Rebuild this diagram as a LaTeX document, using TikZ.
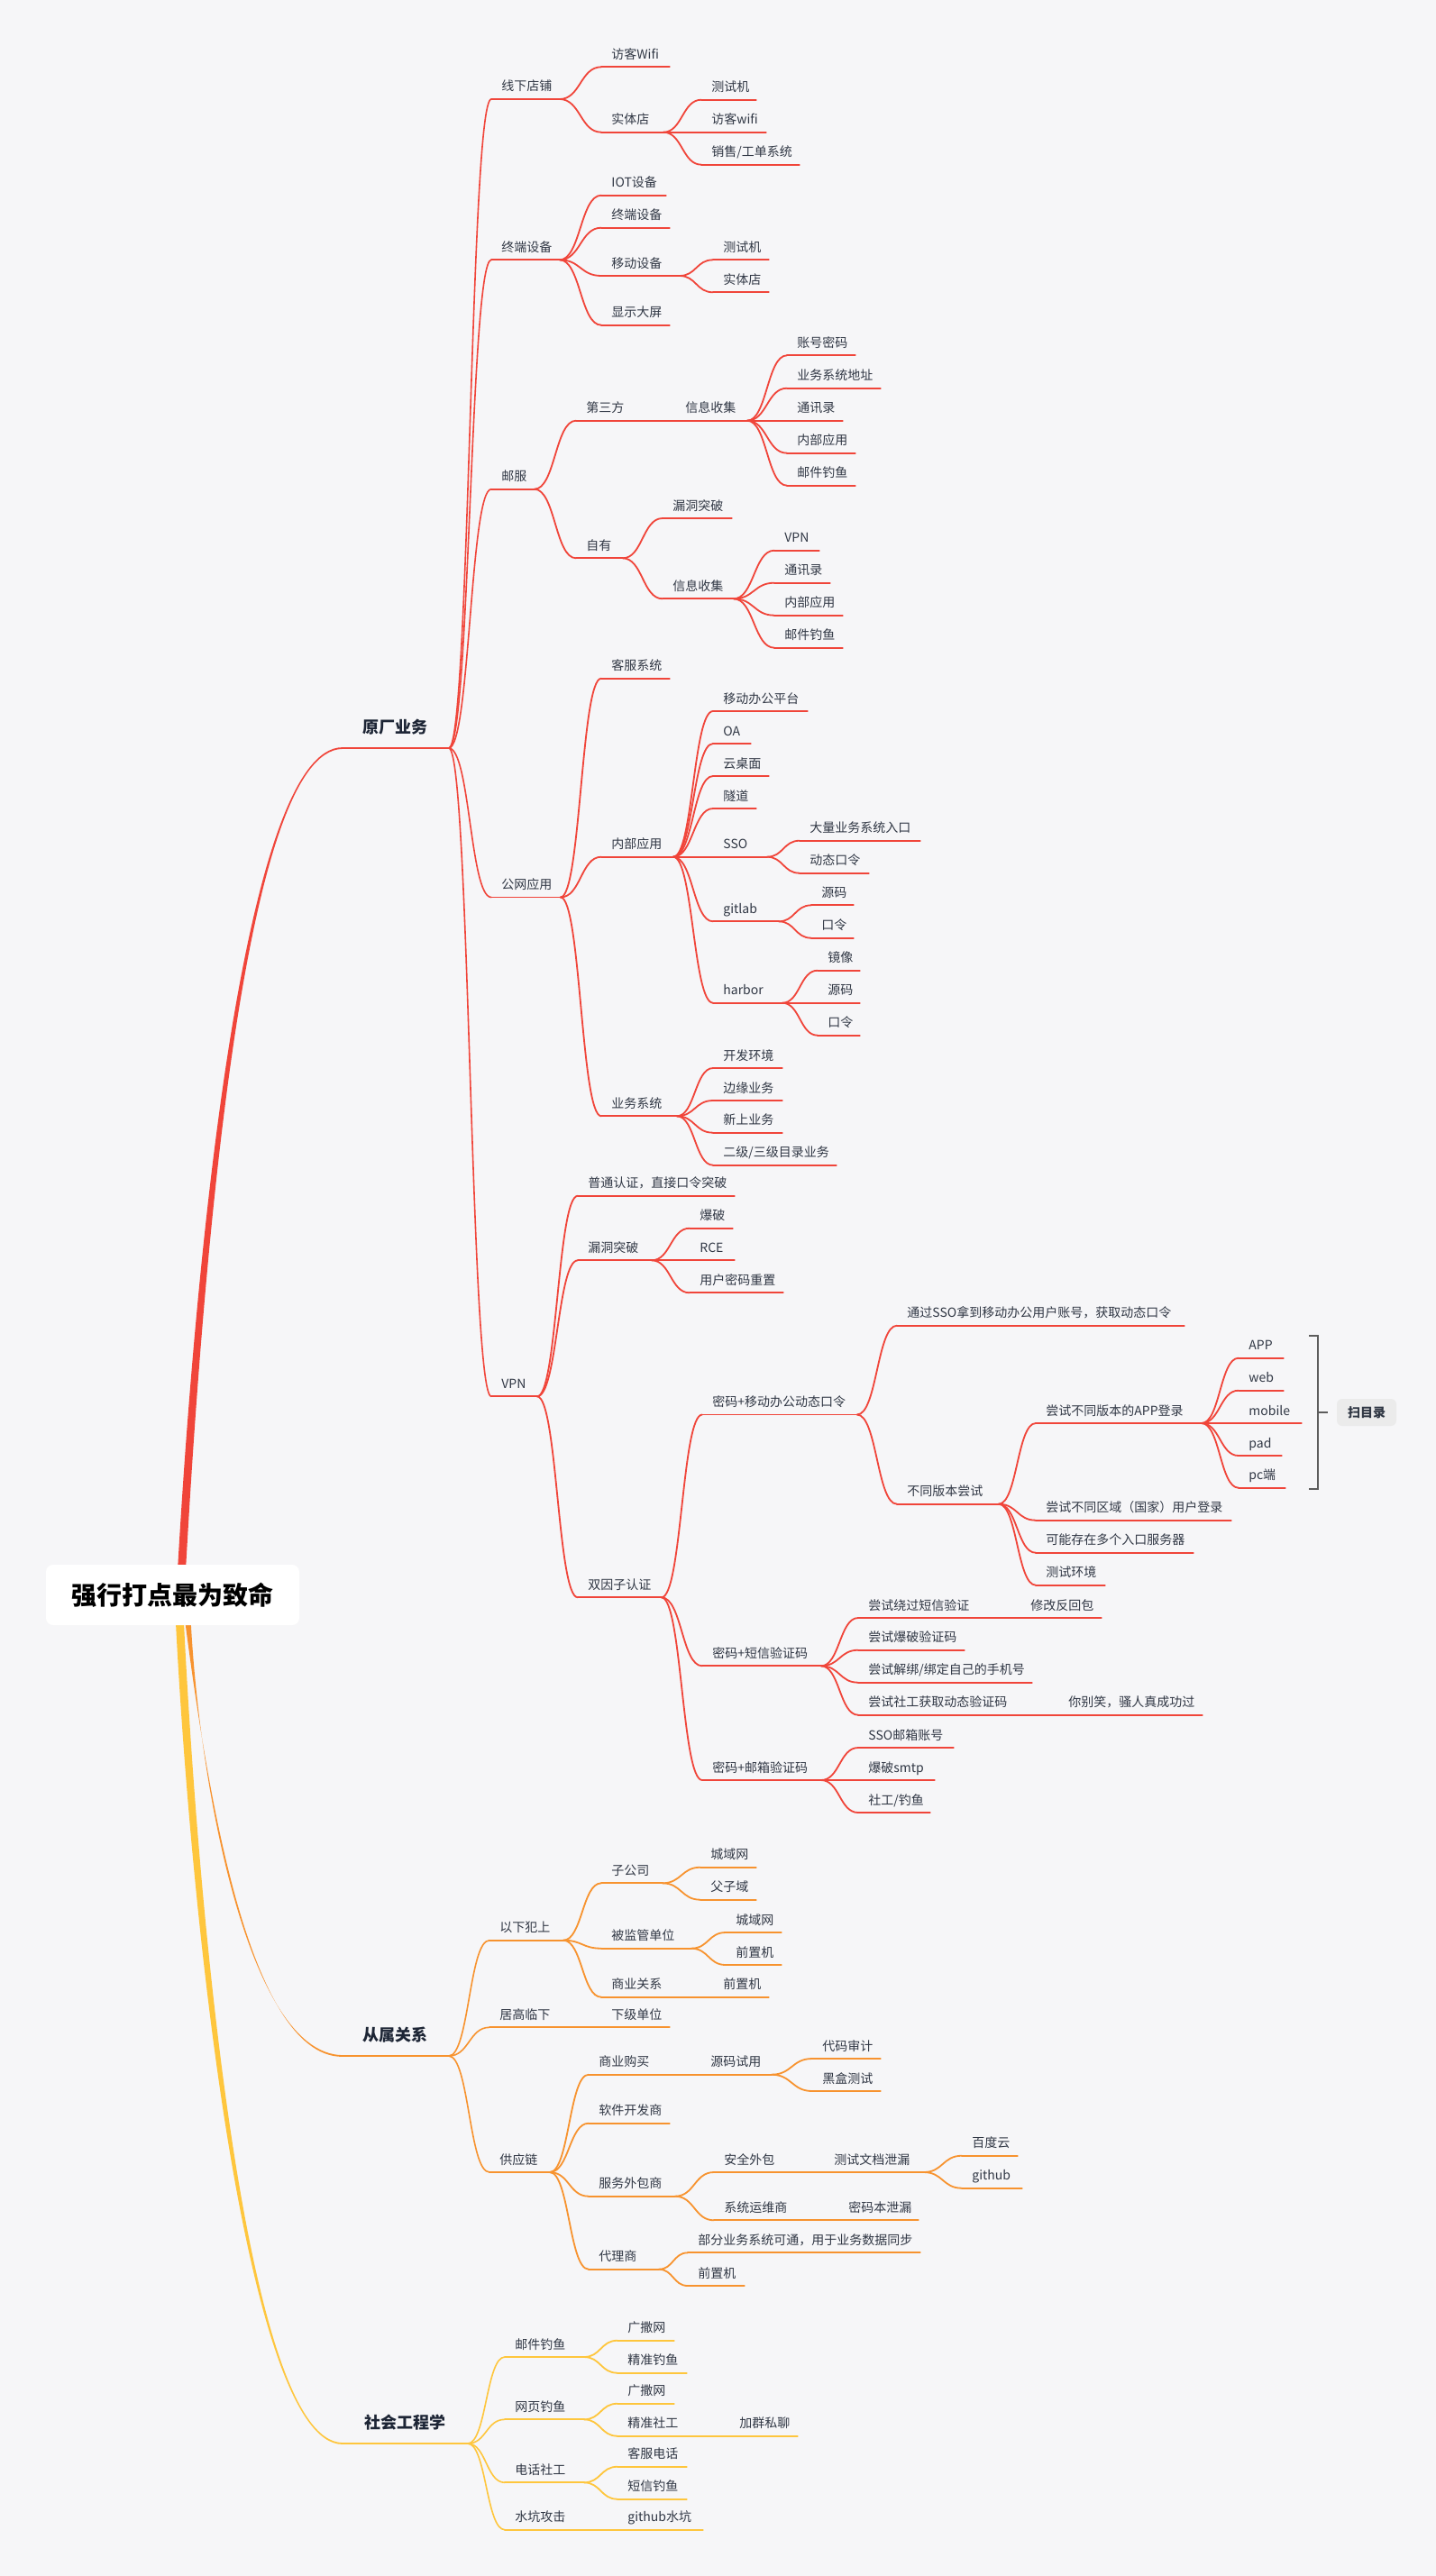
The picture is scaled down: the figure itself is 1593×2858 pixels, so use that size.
\documentclass[tikz,border=0pt]{standalone}
\usepackage{fontspec}
\setmainfont{Noto Sans CJK SC}
\usetikzlibrary{calc}
\definecolor{bg}{HTML}{F6F6F8}
\definecolor{cR}{HTML}{F0453A}
\definecolor{cO}{HTML}{F7932F}
\definecolor{cY}{HTML}{FEC63D}
\definecolor{txt}{HTML}{303744}
\definecolor{tdark}{HTML}{1D2535}
\definecolor{brkc}{HTML}{5C5C5C}
\definecolor{tagbg}{HTML}{EBEBEB}
\tikzset{
  lf/.style={anchor=south west, inner xsep=5.5pt, inner ysep=4.3pt, text depth=0pt,
    font=\fontsize{7}{8}\selectfont, text=txt},
  lone/.style={anchor=south west, inner xsep=0pt, inner ysep=8pt, text depth=0pt,
    font=\bfseries\fontsize{9}{10}\selectfont, text=tdark},
  ul/.style={line width=0.9pt, line cap=round},
  rootn/.style={fill=white, rounded corners=4pt, minimum width=140.5pt, minimum height=33.5pt,
    inner sep=0pt, font=\bfseries\fontsize{14}{16}\selectfont, text=black},
  tagn/.style={fill=tagbg, rounded corners=3pt, minimum width=33pt, minimum height=15pt,
    inner sep=0pt, font=\bfseries\fontsize{7}{8}\selectfont, text=txt},
  brk/.style={draw=brkc, line width=1pt},
}
\newcommand\mmnode[6]{%
  \pgfmathsetlengthmacro\mmw{(#4-#3-22)*0.5}%
  \node[lf] (#2) at (#3,#5) {\hbox to \mmw{#6\hss}};
  \draw[ul,draw=#1] (#2.south west) -- (#2.south east);
}
\newcommand\mmlink[4][0.9pt]{%
  \draw[line width=#1,draw=#2,line cap=round] let \p1=(#3.south east), \p2=(#4.south west) in
    (\p1) .. controls ({0.5*\x1+0.5*\x2},\y1) and ({0.5*\x1+0.5*\x2},\y2) .. (\p2);
}
\begin{document}
\begin{tikzpicture}[x=0.5pt,y=-0.5pt]
\fill[bg] (0,0) rectangle (1593,2858);
\useasboundingbox (0,0) rectangle (1593,2858);
\coordinate (rc) at (191.5,1769.5);
% ---------- level 1
\node[lone, minimum width=58.5pt] (A) at (380,830) {原厂业务};
\draw[line width=0.75pt,draw=cR] (A.south west) -- (A.south east);
\node[lone, minimum width=58.5pt] (B) at (380,2281) {从属关系};
\draw[line width=0.75pt,draw=cO] (B.south west) -- (B.south east);
\node[lone, minimum width=69pt] (C) at (380,2711) {社会工程学};
\draw[line width=0.75pt,draw=cY] (C.south west) -- (C.south east);
% ---------- red branch
\mmnode{cR}{a1}{545}{620}{110}{线下店铺}
\mmnode{cR}{a11}{667}{742}{74.3}{访客Wifi}
\mmnode{cR}{a12}{667}{735}{146.7}{实体店}
\mmnode{cR}{a121}{778}{838}{110.7}{测试机}
\mmnode{cR}{a122}{778}{849}{146.7}{访客wifi}
\mmnode{cR}{a123}{778}{886}{182.7}{销售/工单系统}
\mmnode{cR}{a2}{545}{620}{288.3}{终端设备}
\mmnode{cR}{a21}{667}{738}{216.7}{IOT设备}
\mmnode{cR}{a22}{667}{742}{252.7}{终端设备}
\mmnode{cR}{a23}{667}{753}{306}{移动设备}
\mmnode{cR}{a231}{791}{852}{288.3}{测试机}
\mmnode{cR}{a232}{791}{852}{324.3}{实体店}
\mmnode{cR}{a24}{667}{742}{360.7}{显示大屏}
\mmnode{cR}{a3}{545}{592}{542.7}{邮服}
\mmnode{cR}{a31}{639}{703}{466.7}{第三方}
\mmnode{cR}{a311}{749}{828}{466.7}{信息收集}
\mmnode{cR}{a3111}{873}{948}{394.3}{账号密码}
\mmnode{cR}{a3112}{873}{976}{430.7}{业务系统地址}
\mmnode{cR}{a3113}{873}{934}{466.7}{通讯录}
\mmnode{cR}{a3114}{873}{948}{502.7}{内部应用}
\mmnode{cR}{a3115}{873}{948}{538.7}{邮件钓鱼}
\mmnode{cR}{a32}{639}{690}{619.3}{自有}
\mmnode{cR}{a321}{735}{811}{575}{漏洞突破}
\mmnode{cR}{a322}{735}{813}{664.3}{信息收集}
\mmnode{cR}{a3221}{859}{908}{610.7}{VPN}
\mmnode{cR}{a3222}{859}{920}{646.7}{通讯录}
\mmnode{cR}{a3223}{859}{934}{682.7}{内部应用}
\mmnode{cR}{a3224}{859}{934}{718.7}{邮件钓鱼}
\mmnode{cR}{a4}{545}{621}{995.5}{公网应用}
\mmnode{cR}{a41}{667}{742}{752.7}{客服系统}
\mmnode{cR}{a42}{667}{746}{950.7}{内部应用}
\mmnode{cR}{a421}{791}{895}{789}{移动办公平台}
\mmnode{cR}{a422}{791}{832}{825}{OA}
\mmnode{cR}{a423}{791}{852}{861}{云桌面}
\mmnode{cR}{a424}{791}{838}{897}{隧道}
\mmnode{cR}{a425}{791}{850}{950.7}{SSO}
\mmnode{cR}{a4251}{887}{1020}{932.7}{大量业务系统入口}
\mmnode{cR}{a4252}{887}{963}{968.7}{动态口令}
\mmnode{cR}{a426}{791}{863}{1022.3}{gitlab}
\mmnode{cR}{a4261}{900}{946}{1004.3}{源码}
\mmnode{cR}{a4262}{900}{946}{1040.7}{口令}
\mmnode{cR}{a427}{791}{867}{1112.7}{harbor}
\mmnode{cR}{a4271}{907}{953}{1076.7}{镜像}
\mmnode{cR}{a4272}{907}{953}{1112.7}{源码}
\mmnode{cR}{a4273}{907}{953}{1148.7}{口令}
\mmnode{cR}{a43}{667}{750}{1238.3}{业务系统}
\mmnode{cR}{a431}{791}{867}{1185}{开发环境}
\mmnode{cR}{a432}{791}{867}{1221}{边缘业务}
\mmnode{cR}{a433}{791}{867}{1256.7}{新上业务}
\mmnode{cR}{a434}{791}{927}{1292.7}{二级/三级目录业务}
\mmnode{cR}{a5}{545}{595}{1549.3}{VPN}
\mmnode{cR}{a51}{641}{814}{1326.7}{普通认证，直接口令突破}
\mmnode{cR}{a52}{641}{722}{1398.3}{漏洞突破}
\mmnode{cR}{a521}{765}{812}{1362.7}{爆破}
\mmnode{cR}{a522}{765}{814}{1398.3}{RCE}
\mmnode{cR}{a523}{765}{868}{1434.3}{用户密码重置}
\mmnode{cR}{a53}{641}{733}{1772.3}{双因子认证}
\mmnode{cR}{b1}{779}{950}{1569.5}{密码+移动办公动态口令}
\mmnode{cR}{b11}{995}{1313}{1470.7}{通过SSO拿到移动办公用户账号，获取动态口令}
\mmnode{cR}{b12}{995}{1107}{1668.7}{不同版本尝试}
\mmnode{cR}{b121}{1149}{1332}{1579}{尝试不同版本的APP登录}
\mmnode{cR}{c1}{1374}{1423}{1506.7}{APP}
\mmnode{cR}{c2}{1374}{1423}{1542.7}{web}
\mmnode{cR}{c3}{1374}{1443}{1579}{mobile}
\mmnode{cR}{c4}{1374}{1421}{1615}{pad}
\mmnode{cR}{c5}{1374}{1425}{1650.7}{pc端}
\mmnode{cR}{b122}{1149}{1365}{1686.7}{尝试不同区域（国家）用户登录}
\mmnode{cR}{b123}{1149}{1323}{1722.7}{可能存在多个入口服务器}
\mmnode{cR}{b124}{1149}{1225}{1758.7}{测试环境}
\mmnode{cR}{b2}{779}{910}{1848.3}{密码+短信验证码}
\mmnode{cR}{b21}{952}{1090}{1795}{尝试绕过短信验证}
\mmnode{cR}{b211}{1132}{1221}{1795}{修改反回包}
\mmnode{cR}{b22}{952}{1069}{1830.7}{尝试爆破验证码}
\mmnode{cR}{b23}{952}{1144}{1866.7}{尝试解绑/绑定自己的手机号}
\mmnode{cR}{b24}{952}{1127}{1902.7}{尝试社工获取动态验证码}
\mmnode{cR}{b241}{1174}{1333}{1902.7}{你别笑，骚人真成功过}
\mmnode{cR}{b3}{779}{910}{1975}{密码+邮箱验证码}
\mmnode{cR}{b31}{952}{1057}{1939}{SSO邮箱账号}
\mmnode{cR}{b32}{952}{1036}{1975}{爆破smtp}
\mmnode{cR}{b33}{952}{1031}{2011}{社工/钓鱼}
% ---------- orange branch
\mmnode{cO}{o1}{543}{624}{2152.7}{以下犯上}
\mmnode{cO}{o11}{667}{734}{2089.3}{子公司}
\mmnode{cO}{o111}{777}{838}{2071.7}{城域网}
\mmnode{cO}{o112}{777}{838}{2107.7}{父子域}
\mmnode{cO}{o12}{667}{766}{2161.7}{被监管单位}
\mmnode{cO}{o121}{805}{866}{2144}{城域网}
\mmnode{cO}{o122}{805}{866}{2180}{前置机}
\mmnode{cO}{o13}{667}{745}{2215.7}{商业关系}
\mmnode{cO}{o131}{791}{852}{2215.7}{前置机}
\mmnode{cO}{o2}{543}{624}{2249.3}{居高临下}
\mmnode{cO}{o21}{667}{742}{2249.3}{下级单位}
\mmnode{cO}{o3}{543}{609}{2410}{供应链}
\mmnode{cO}{o31}{653}{730}{2301.7}{商业购买}
\mmnode{cO}{o311}{777}{855}{2301.7}{源码试用}
\mmnode{cO}{o3111}{901}{976}{2284}{代码审计}
\mmnode{cO}{o3112}{901}{976}{2320}{黑盒测试}
\mmnode{cO}{o32}{653}{742}{2355.7}{软件开发商}
\mmnode{cO}{o33}{653}{748}{2436.7}{服务外包商}
\mmnode{cO}{o331}{792}{870}{2410}{安全外包}
\mmnode{cO}{o3311}{914}{1024}{2410}{测试文档泄漏}
\mmnode{cO}{o33111}{1067}{1128}{2391.7}{百度云}
\mmnode{cO}{o33112}{1067}{1133}{2427.7}{github}
\mmnode{cO}{o332}{792}{882}{2463.3}{系统运维商}
\mmnode{cO}{o3321}{930}{1018}{2463.3}{密码本泄漏}
\mmnode{cO}{o34}{653}{730}{2517.7}{代理商}
\mmnode{cO}{o341}{763}{1020}{2499.3}{部分业务系统可通，用于业务数据同步}
\mmnode{cO}{o342}{763}{825}{2536}{前置机}
% ---------- yellow branch
\mmnode{cY}{y1}{560}{647}{2615}{邮件钓鱼}
\mmnode{cY}{y11}{685}{747}{2596.7}{广撒网}
\mmnode{cY}{y12}{685}{761}{2632.7}{精准钓鱼}
\mmnode{cY}{y2}{560}{647}{2684.3}{网页钓鱼}
\mmnode{cY}{y21}{685}{747}{2666.7}{广撒网}
\mmnode{cY}{y22}{685}{763}{2702.7}{精准社工}
\mmnode{cY}{y221}{809}{884}{2702.7}{加群私聊}
\mmnode{cY}{y3}{560}{647}{2754.3}{电话社工}
\mmnode{cY}{y31}{685}{761}{2736.7}{客服电话}
\mmnode{cY}{y32}{685}{761}{2772.7}{短信钓鱼}
\mmnode{cY}{y4}{560}{640}{2806.7}{水坑攻击}
\mmnode{cY}{y41}{685}{779}{2806.7}{github水坑}
% ---------- connectors
\foreach \pa/\ch in {A/a1,A/a2,A/a3,A/a4,A/a5} {\mmlink[0.8pt]{cR}{\pa}{\ch}}
\foreach \pa/\ch in {B/o1,B/o2,B/o3} {\mmlink[0.8pt]{cO}{\pa}{\ch}}
\foreach \pa/\ch in {C/y1,C/y2,C/y3,C/y4} {\mmlink[0.8pt]{cY}{\pa}{\ch}}
\foreach \pa/\ch in {a1/a11,a1/a12,a12/a121,a12/a122,a12/a123,
  a2/a21,a2/a22,a2/a23,a2/a24,a23/a231,a23/a232,
  a3/a31,a3/a32,a31/a311,a311/a3111,a311/a3112,a311/a3113,a311/a3114,a311/a3115,
  a32/a321,a32/a322,a322/a3221,a322/a3222,a322/a3223,a322/a3224,
  a4/a41,a4/a42,a4/a43,a42/a421,a42/a422,a42/a423,a42/a424,a42/a425,a42/a426,a42/a427,
  a425/a4251,a425/a4252,a426/a4261,a426/a4262,a427/a4271,a427/a4272,a427/a4273,
  a43/a431,a43/a432,a43/a433,a43/a434,
  a5/a51,a5/a52,a5/a53,a52/a521,a52/a522,a52/a523,
  a53/b1,a53/b2,a53/b3,b1/b11,b1/b12,b12/b121,b12/b122,b12/b123,b12/b124,
  b121/c1,b121/c2,b121/c3,b121/c4,b121/c5,
  b2/b21,b2/b22,b2/b23,b2/b24,b21/b211,b24/b241,b3/b31,b3/b32,b3/b33}
  {\mmlink{cR}{\pa}{\ch}}
\foreach \pa/\ch in {o1/o11,o1/o12,o1/o13,o11/o111,o11/o112,o12/o121,o12/o122,o13/o131,
  o2/o21,o3/o31,o3/o32,o3/o33,o3/o34,o31/o311,o311/o3111,o311/o3112,
  o33/o331,o33/o332,o331/o3311,o3311/o33111,o3311/o33112,o332/o3321,o34/o341,o34/o342}
  {\mmlink{cO}{\pa}{\ch}}
\foreach \pa/\ch in {y1/y11,y1/y12,y2/y21,y2/y22,y22/y221,y3/y31,y3/y32,y4/y41}
  {\mmlink{cY}{\pa}{\ch}}
% ---------- main tapered branches
\fill[cR] ($(rc)+(4,0)$) .. controls ($(rc)+(24,-370)$) and ($(A.south west)+(-110,-1)$) .. ($(A.south west)+(0,-0.9)$)
  -- ($(A.south west)+(0,0.9)$) .. controls ($(A.south west)+(-110,2)$) and ($(rc)+(33,-370)$) .. ($(rc)+(13,0)$) -- cycle;
\fill[cO] ($(rc)+(10,0)$) .. controls ($(rc)+(33,180)$) and ($(B.south west)+(-110,1)$) .. ($(B.south west)+(0,0.9)$)
  -- ($(B.south west)+(0,-0.9)$) .. controls ($(B.south west)+(-110,-2)$) and ($(rc)+(24,180)$) .. ($(rc)+(19,0)$) -- cycle;
\fill[cY] ($(rc)+(2,0)$) .. controls ($(rc)+(17,330)$) and ($(C.south west)+(-110,1)$) .. ($(C.south west)+(0,0.9)$)
  -- ($(C.south west)+(0,-0.9)$) .. controls ($(C.south west)+(-110,-2)$) and ($(rc)+(26,330)$) .. ($(rc)+(11,0)$) -- cycle;
% ---------- root
\node[rootn] (root) at (rc) {强行打点最为致命};
% ---------- bracket and tag
\node[tagn] (scan) at (1516,1567) {扫目录};
\coordinate (bt) at (1452,1482);
\coordinate (bb) at (1452,1651.5);
\coordinate (bm) at (1462.4,1567);
\draw[brk] (bt) -| (bm) |- (bb);
\draw[brk] (bm) -- ($(scan.west)+(-10,0)$);
\end{tikzpicture}
\end{document}
